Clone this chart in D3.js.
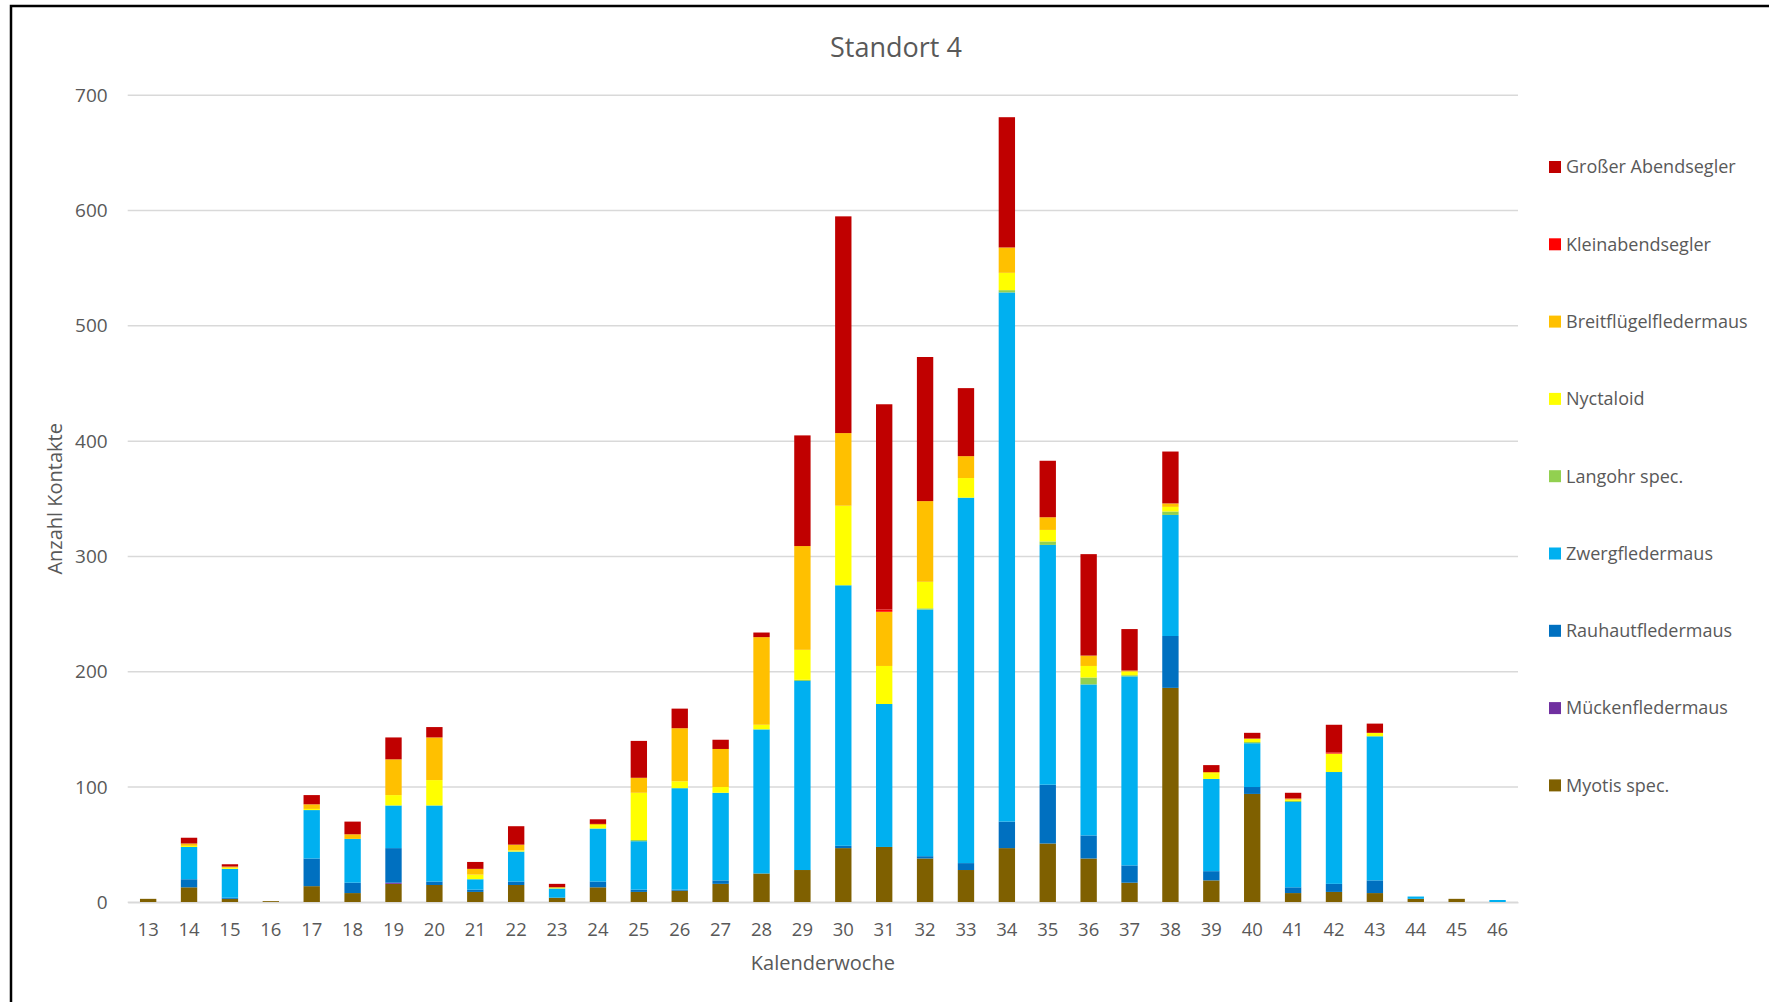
<!DOCTYPE html>
<html>
<head>
<meta charset="utf-8">
<script src="https://cdn.jsdelivr.net/npm/d3@7"></script>
<style>
  html, body { margin: 0; padding: 0; background: #fff; }
  svg { display: block; font-family: "Open Sans", sans-serif; }
</style>
</head>
<body>
<svg id="chart" width="1769" height="1002"></svg>
<script>
// Calendar weeks (x categories)
const weeks = [13,14,15,16,17,18,19,20,21,22,23,24,25,26,27,28,29,30,31,32,33,34,35,36,37,38,39,40,41,42,43,44,45,46];

// Contacts per species and week (stacked bottom to top)
const myotis      = [3,13,3,1,14,8,16,15,9,15,4,13,9,10,16,25,28,47,48,38,28,47,51,38,17,186,19,94,8,9,8,3,3,0];
const muecken     = [0,0,0,0,0,0,1,0,0,0,0,0,0,0,0,0,0,0,0,0,0,0,0,0,0,0,0,0,0,0,0,0,0,0];
const rauhaut     = [0,7,1,0,24,9,30,3,2,3,0,5,2,1,3,0,0,2,0,2,6,23,51,20,15,45,8,6,5,7,11,0,0,0];
const zwerg       = [0,28,25,0,42,38,37,66,9,26,8,46,42,88,76,125,164,226,124,214,317,459,208,131,164,105,80,38,74,97,125,2,0,2];
const langohr     = [0,0,0,0,0,0,0,0,0,0,0,0,1,0,0,0,1,0,0,1,0,2,3,6,1,3,0,1,1,0,0,0,0,0];
const nyctaloid   = [0,1,1,0,1,0,9,22,4,1,1,3,41,6,5,4,26,69,33,23,17,15,10,10,3,4,5,3,1,16,3,0,0,0];
const breitfluegel= [0,2,1,0,4,4,31,37,5,5,0,1,13,46,33,76,90,63,47,70,19,22,11,9,1,3,1,0,1,0,0,0,0,0];
const kleinabend  = [0,0,0,0,0,0,0,0,0,0,0,0,0,0,0,0,0,0,2,0,0,0,0,0,0,0,0,0,0,1,0,0,0,0];
const grosserAbend= [0,5,2,0,8,11,19,9,6,16,3,4,32,17,8,4,96,188,178,125,59,113,49,88,36,45,6,5,5,24,8,0,0,0];

const yTicks = [0,100,200,300,400,500,600,700];

// Series definitions: stack order bottom -> top
const series = [
  { name: "Myotis spec.",          values: myotis,       color: "#7F6000" },
  { name: "Mückenfledermaus",      values: muecken,      color: "#7030A0" },
  { name: "Rauhautfledermaus",     values: rauhaut,      color: "#0070C0" },
  { name: "Zwergfledermaus",       values: zwerg,        color: "#00B0F0" },
  { name: "Langohr spec.",         values: langohr,      color: "#92D050" },
  { name: "Nyctaloid",             values: nyctaloid,    color: "#FFFF00" },
  { name: "Breitflügelfledermaus", values: breitfluegel, color: "#FFC000" },
  { name: "Kleinabendsegler",      values: kleinabend,   color: "#FF0000" },
  { name: "Großer Abendsegler",    values: grosserAbend, color: "#C00000" }
];

const rows = weeks.map((w, i) => {
  const r = { week: w };
  series.forEach(s => { r[s.name] = s.values[i]; });
  return r;
});

const svg = d3.select("#chart");
const textColor = "#595959";
const gridColor = "#D9D9D9";

// outer frame
svg.append("rect")
  .attr("x", 11).attr("y", 6)
  .attr("width", 1800).attr("height", 1100)
  .attr("fill", "none").attr("stroke", "#000").attr("stroke-width", 2.5);

const plot = { left: 127.7, right: 1518, top: 95.3, bottom: 902.3 };

const x = d3.scaleBand()
  .domain(weeks)
  .range([plot.left, plot.right])
  .paddingInner(0.6)
  .paddingOuter(0.3);

const y = d3.scaleLinear()
  .domain([0, 700])
  .range([plot.bottom, plot.top]);

// horizontal gridlines
svg.append("g")
  .selectAll("line")
  .data(yTicks)
  .join("line")
  .attr("x1", plot.left).attr("x2", plot.right)
  .attr("y1", d => y(d)).attr("y2", d => y(d))
  .attr("stroke", gridColor).attr("stroke-width", 1.5);

// y axis labels
const yAxis = svg.append("g")
  .attr("transform", `translate(${plot.left},0)`)
  .call(d3.axisLeft(y).tickValues(yTicks).tickSize(0).tickPadding(20));
yAxis.select(".domain").remove();
yAxis.selectAll("text")
  .attr("fill", textColor)
  .style("font-size", "19px")
  .style("font-family", "'Open Sans', sans-serif");

// stacked bars
const stack = d3.stack().keys(series.map(s => s.name));
const stacked = stack(rows);

svg.append("g")
  .selectAll("g")
  .data(stacked)
  .join("g")
  .attr("fill", (d, i) => series[i].color)
  .selectAll("rect")
  .data(d => d.filter(v => v[1] - v[0] > 0))
  .join("rect")
  .attr("x", d => x(d.data.week))
  .attr("width", x.bandwidth())
  .attr("y", d => y(d[1]))
  .attr("height", d => y(d[0]) - y(d[1]));

// x axis
const xAxis = svg.append("g")
  .attr("transform", `translate(0,${plot.bottom})`)
  .call(d3.axisBottom(x).tickSize(0).tickPadding(21));
xAxis.select(".domain").attr("stroke", gridColor).attr("stroke-width", 1.5);
xAxis.selectAll("text")
  .attr("fill", textColor)
  .style("font-size", "18.5px")
  .style("font-family", "'Open Sans', sans-serif");

// axis titles
svg.append("text")
  .attr("x", (plot.left + plot.right) / 2)
  .attr("y", 970)
  .attr("text-anchor", "middle")
  .attr("fill", textColor)
  .style("font-size", "20px")
  .text("Kalenderwoche");

svg.append("text")
  .attr("transform", `translate(62,${(plot.top + plot.bottom) / 2}) rotate(-90)`)
  .attr("text-anchor", "middle")
  .attr("fill", textColor)
  .style("font-size", "20px")
  .text("Anzahl Kontakte");

// chart title
svg.append("text")
  .attr("x", 896)
  .attr("y", 57)
  .attr("text-anchor", "middle")
  .attr("fill", textColor)
  .style("font-size", "27px")
  .text("Standort 4");

// legend (top entry = top of stack)
const legendItems = series.slice().reverse();
const legend = svg.append("g")
  .selectAll("g")
  .data(legendItems)
  .join("g")
  .attr("transform", (d, i) => `translate(1549,${167 + i * 77.3})`);

legend.append("rect")
  .attr("x", 0).attr("y", -6)
  .attr("width", 12).attr("height", 12)
  .attr("fill", d => d.color);

legend.append("text")
  .attr("x", 17)
  .attr("y", 0)
  .attr("dy", "0.35em")
  .attr("fill", textColor)
  .style("font-size", "18px")
  .text(d => d.name);
</script>
</body>
</html>
